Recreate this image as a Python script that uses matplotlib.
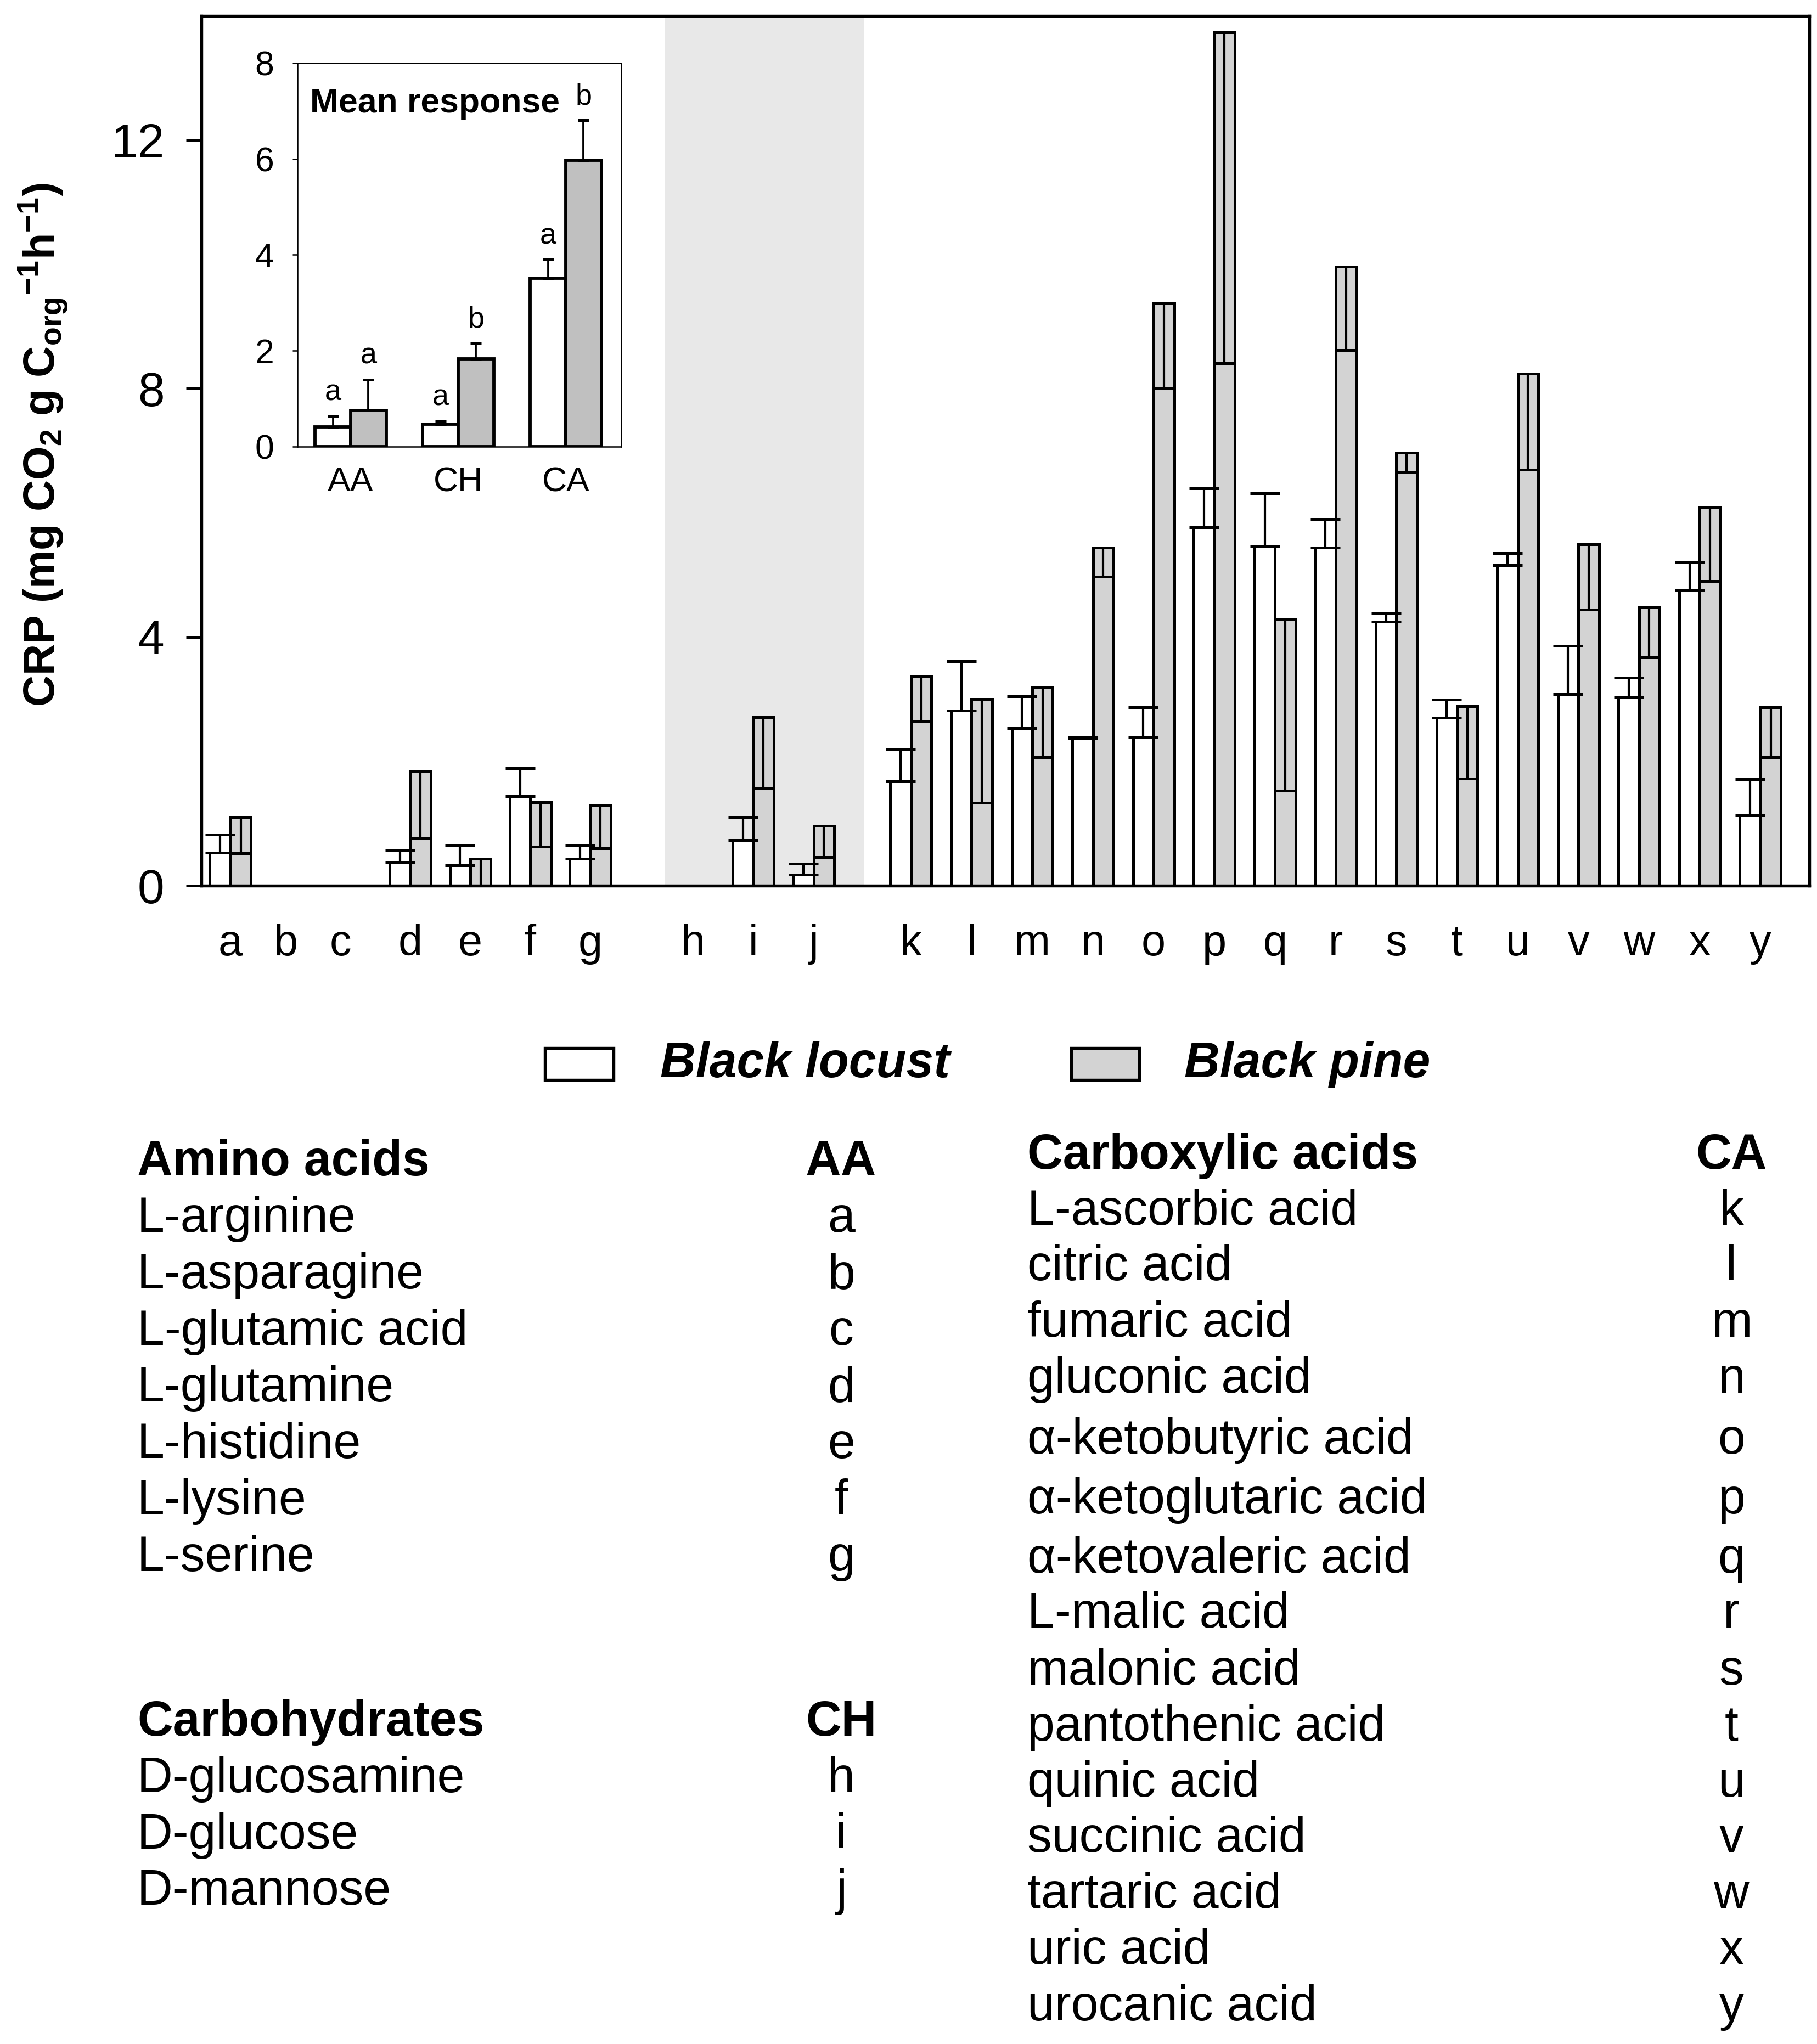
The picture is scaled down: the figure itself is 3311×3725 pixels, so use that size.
import numpy as np
import matplotlib
matplotlib.use('Agg')
import matplotlib.pyplot as plt
from matplotlib.patches import Rectangle

plt.rcParams['font.family'] = ['Liberation Sans', 'DejaVu Sans']
plt.rcParams['mathtext.fontset'] = 'custom'
plt.rcParams['mathtext.rm'] = 'Liberation Sans'
plt.rcParams['mathtext.bf'] = 'Liberation Sans:bold'
plt.rcParams['mathtext.it'] = 'Liberation Sans:italic'

W, H = 3311, 3725

# ---- data ----
letters = list('abcdefghijklmnopqrstuvwxy')
locust = [0.53, 0, 0, 0.38, 0.33, 1.44, 0.43,
          0, 0.73, 0.18,
          1.68, 2.82, 2.53, 2.37, 2.39, 5.77, 5.47, 5.44, 4.25, 2.70, 5.16, 3.08, 3.03, 4.75, 1.13]
locust_se = [0.29, 0, 0, 0.19, 0.32, 0.45, 0.22,
             0, 0.37, 0.17,
             0.52, 0.79, 0.52, 0.02, 0.48, 0.62, 0.84, 0.46, 0.13, 0.29, 0.19, 0.78, 0.32, 0.46, 0.58]
pine = [1.10, 0, 0, 1.84, 0.43, 1.34, 1.30,
        0, 2.71, 0.96,
        3.37, 3.00, 3.20, 5.44, 9.38, 13.73, 4.28, 9.96, 6.97, 2.89, 8.24, 5.49, 4.49, 6.09, 2.87]
pine_se = [0.58, 0, 0, 1.08, 0.43, 0.71, 0.70,
           0, 1.15, 0.50,
           0.72, 1.67, 1.13, 0.47, 1.38, 5.32, 2.75, 1.34, 0.32, 1.17, 1.55, 1.05, 0.82, 1.19, 0.80]

groups = ['AA', 'CH', 'CA']
mean_locust = [0.41, 0.47, 3.51]
mean_locust_se = [0.23, 0.06, 0.39]
mean_pine = [0.76, 1.83, 5.97]
mean_pine_se = [0.64, 0.33, 0.84]
letters_locust = ['a', 'a', 'a']
letters_pine = ['a', 'b', 'b']

amino = ['L-arginine', 'L-asparagine', 'L-glutamic acid', 'L-glutamine',
         'L-histidine', 'L-lysine', 'L-serine']
carbo = ['D-glucosamine', 'D-glucose', 'D-mannose']
carbox = ['L-ascorbic acid', 'citric acid', 'fumaric acid', 'gluconic acid',
          'α-ketobutyric acid', 'α-ketoglutaric acid', 'α-ketovaleric acid',
          'L-malic acid', 'malonic acid', 'pantothenic acid', 'quinic acid',
          'succinic acid', 'tartaric acid', 'uric acid', 'urocanic acid']

locust = np.array(locust); locust_se = np.array(locust_se)
pine = np.array(pine); pine_se = np.array(pine_se)

# x slots, three groups with gaps
xpos = np.concatenate([np.linspace(0, 5.96, 7),
                       np.linspace(7.66, 9.66, 3),
                       np.linspace(11.27, 25.34, 15)])
tick_x = xpos.copy()
tick_x[1] = 0.92
tick_x[2] = 1.82
w = 0.34

fig = plt.figure(figsize=(W / 300, H / 300), dpi=300)
ax = fig.add_axes([367 / W, 1 - 1614 / H, 2930 / W, 1585.5 / H])

ax.axvspan(7.2, 10.5, color='#e8e8e8', zorder=0, lw=0)

m = locust > 0
ax.bar(xpos[m] - w / 2, locust[m], w, color='white', edgecolor='black', lw=1.2, zorder=2)
ax.errorbar(xpos[m] - w / 2, locust[m], yerr=[np.zeros(m.sum()), locust_se[m]],
            fmt='none', ecolor='black', elinewidth=1.0, capsize=6.5, capthick=1.2, zorder=3)
m = pine > 0
ax.bar(xpos[m] + w / 2, pine[m], w, color='#d3d3d3', edgecolor='black', lw=1.2, zorder=2)
ax.errorbar(xpos[m] + w / 2, pine[m], yerr=[pine_se[m], np.zeros(m.sum())],
            fmt='none', ecolor='black', elinewidth=1.0, capsize=4.4, capthick=1.2, zorder=3)

ax.set_xlim(-0.48, 26.15)
ax.set_ylim(0, 14)
ax.set_yticks([0, 4, 8, 12])
ax.set_xticks(tick_x)
ax.set_xticklabels(letters)
ax.tick_params(axis='y', direction='out', length=6.7, width=1.2, pad=9.5, labelsize=21)
ax.tick_params(axis='x', length=0, pad=16.5, labelsize=19)
for s in ax.spines.values():
    s.set_linewidth(1.3)

fig.text(79 / W, 1 - 811 / H,
         r'$\mathbf{CRP\ (mg\ CO_2\ g\ C_{org}{}^{-1}h^{-1})}$',
         rotation=90, ha='center', va='center', fontsize=19)

# ---- inset: mean response ----
ix = np.arange(3)
iw = 0.33
ins = fig.add_axes([542 / W, 1 - 814 / H, 590 / W, 699 / H])
ins.bar(ix - iw / 2, mean_locust, iw, color='white', edgecolor='black', lw=1.4, zorder=2)
ins.bar(ix + iw / 2, mean_pine, iw, color='#c0c0c0', edgecolor='black', lw=1.4, zorder=2)
ins.errorbar(ix - iw / 2, mean_locust, yerr=[np.zeros(3), mean_locust_se], fmt='none',
             ecolor='black', elinewidth=0.9, capsize=2.4, capthick=1.2, zorder=3)
ins.errorbar(ix + iw / 2, mean_pine, yerr=[np.zeros(3), mean_pine_se], fmt='none',
             ecolor='black', elinewidth=0.9, capsize=2.4, capthick=1.2, zorder=3)
for i in range(3):
    ins.text(ix[i] - iw / 2, mean_locust[i] + mean_locust_se[i] + 0.33, letters_locust[i],
             ha='center', va='baseline', fontsize=13)
    ins.text(ix[i] + iw / 2, mean_pine[i] + mean_pine_se[i] + 0.33, letters_pine[i],
             ha='center', va='baseline', fontsize=13)
ins.set_xlim(-0.495, 2.515)
ins.set_ylim(0, 8)
ins.set_yticks([0, 2, 4, 6, 8])
ins.set_xticks(ix)
ins.set_xticklabels(groups)
ins.tick_params(axis='y', direction='out', length=2.2, width=0.6, pad=8, labelsize=15)
ins.tick_params(axis='x', length=0, pad=8.5, labelsize=15)
for s in ins.spines.values():
    s.set_linewidth(0.6)
ins.text((565 - 542) / 590, 1 - (205 - 115) / 699, 'Mean response', transform=ins.transAxes,
         fontsize=15, fontweight='bold', va='baseline', ha='left')

# ---- legend ----
fig.patches.append(Rectangle((993 / W, 1 - 1968 / H), 125 / W, 58 / H, transform=fig.transFigure,
                             facecolor='white', edgecolor='black', lw=1.3))
fig.patches.append(Rectangle((1952 / W, 1 - 1968 / H), 124 / W, 58 / H, transform=fig.transFigure,
                             facecolor='#d3d3d3', edgecolor='black', lw=1.3))
fig.text(1203 / W, 1 - 1963 / H, 'Black locust', fontsize=21.5, fontweight='bold',
         fontstyle='italic', va='baseline')
fig.text(2158 / W, 1 - 1963 / H, 'Black pine', fontsize=21.5, fontweight='bold',
         fontstyle='italic', va='baseline')

# ---- key tables ----
fs = 21.5


def put(x, y, s, **kw):
    fig.text(x / W, 1 - y / H, s, fontsize=fs, va='baseline', **kw)


put(250, 2142, 'Amino acids', fontweight='bold')
put(1533, 2142, 'AA', fontweight='bold', ha='center')
for i, name in enumerate(amino):
    put(250, 2245 + 103 * i, name)
    put(1533, 2245 + 103 * i, letters[i], ha='center')

put(250, 3163, 'Carbohydrates', fontweight='bold')
put(1533, 3163, 'CH', fontweight='bold', ha='center')
for i, name in enumerate(carbo):
    put(250, 3266 + 102.5 * i, name)
    put(1533, 3266 + 102.5 * i, letters[7 + i], ha='center')

ca_y = [2232, 2333, 2436, 2538, 2649, 2758, 2866, 2966, 3070,
        3172, 3274, 3375, 3477, 3579, 3682]
put(1872, 2130, 'Carboxylic acids', fontweight='bold')
put(3155, 2130, 'CA', fontweight='bold', ha='center')
for i, name in enumerate(carbox):
    put(1872, ca_y[i], name)
    put(3155, ca_y[i], letters[10 + i], ha='center')

fig.savefig('out.png', dpi=300, facecolor='white')
